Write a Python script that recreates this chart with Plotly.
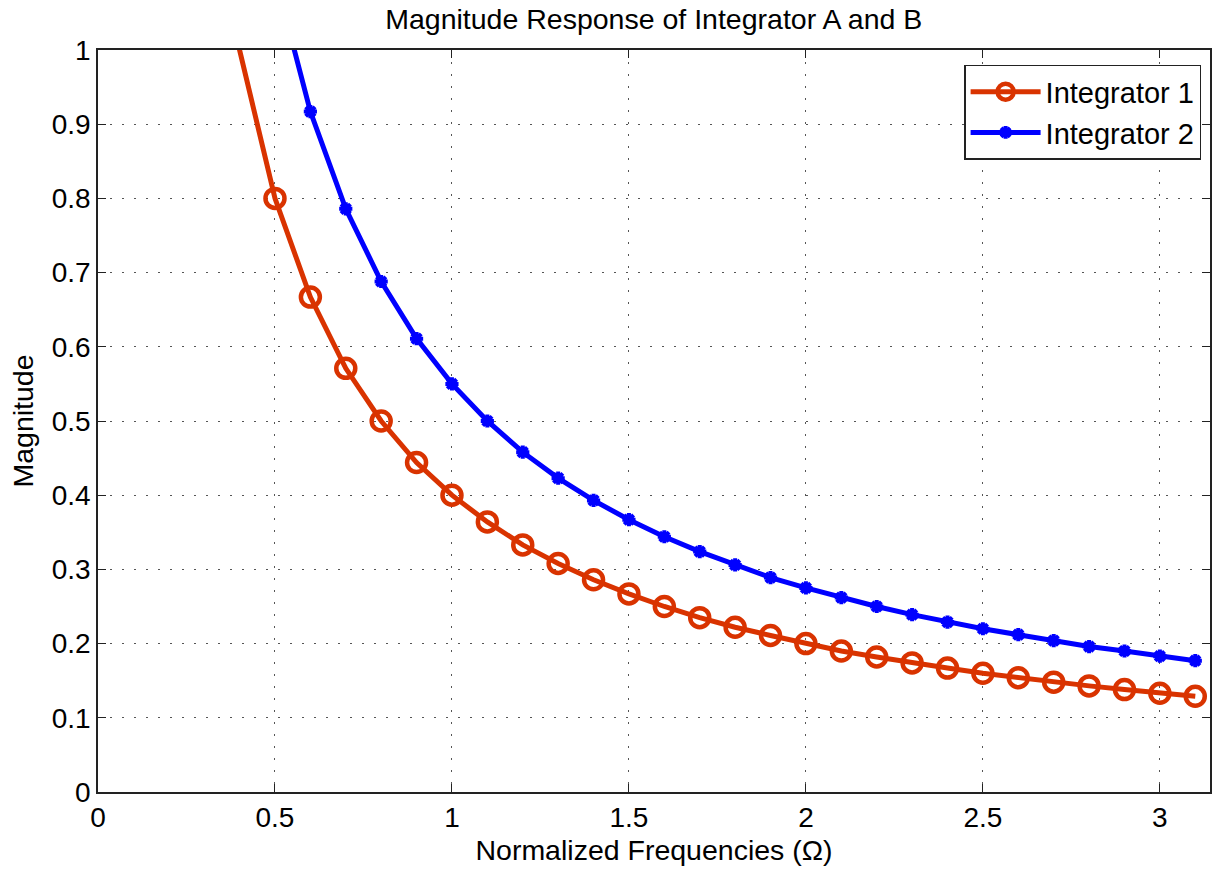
import plotly.graph_objects as go

# Normalized frequency samples (Omega)
freq_1 = [0.3, 0.4, 0.5, 0.6, 0.7, 0.8, 0.9, 1.0, 1.1, 1.2, 1.3, 1.4, 1.5, 1.6,
          1.7, 1.8, 1.9, 2.0, 2.1, 2.2, 2.3, 2.4, 2.5, 2.6, 2.7, 2.8, 2.9, 3.0, 3.1]
mag_1 = [1.333, 1.0, 0.8, 0.667, 0.571, 0.5, 0.444, 0.4, 0.364, 0.333, 0.308,
         0.286, 0.267, 0.25, 0.235, 0.222, 0.211, 0.2, 0.190, 0.182, 0.174,
         0.167, 0.16, 0.154, 0.148, 0.143, 0.138, 0.133, 0.129]

freq_2 = [0.5, 0.6, 0.7, 0.8, 0.9, 1.0, 1.1, 1.2, 1.3, 1.4, 1.5, 1.6, 1.7, 1.8,
          1.9, 2.0, 2.1, 2.2, 2.3, 2.4, 2.5, 2.6, 2.7, 2.8, 2.9, 3.0, 3.1]
mag_2 = [1.1, 0.917, 0.786, 0.688, 0.611, 0.55, 0.5, 0.458, 0.423, 0.393, 0.367,
         0.344, 0.324, 0.306, 0.289, 0.275, 0.262, 0.25, 0.239, 0.229, 0.22,
         0.212, 0.204, 0.196, 0.19, 0.183, 0.177]

x_ticks = [0, 0.5, 1, 1.5, 2, 2.5, 3]
y_ticks = [0, 0.1, 0.2, 0.3, 0.4, 0.5, 0.6, 0.7, 0.8, 0.9, 1]

RED = "#D93300"
BLUE = "#0000FF"
FONT = "Liberation Sans, Arial, sans-serif"

# hide markers whose centre falls outside the visible y-range
size_1 = [19 if v < 1 else 0 for v in mag_1]
size_2 = [11 if v < 1 else 0 for v in mag_2]

fig = go.Figure()
fig.add_trace(go.Scatter(
    x=freq_1, y=mag_1, name="Integrator 1", mode="lines+markers", opacity=1,
    line=dict(color=RED, width=5),
    marker=dict(symbol="circle-open", size=size_1, color=RED, opacity=1,
                line=dict(color=RED, width=4.5)),
))
fig.add_trace(go.Scatter(
    x=freq_2, y=mag_2, name="Integrator 2", mode="lines+markers", opacity=1,
    line=dict(color=BLUE, width=5),
    marker=dict(symbol="asterisk-open", size=size_2, color=BLUE, opacity=1,
                line=dict(color=BLUE, width=4)),
))

axis_common = dict(
    showline=True, linecolor="#222222", linewidth=1.5, mirror="ticks",
    ticks="inside", ticklen=8, tickwidth=1.2, tickcolor="#222222",
    showgrid=True, gridcolor="#555555", gridwidth=1, griddash="2px,10px",
    zeroline=False, tickfont=dict(family=FONT, size=28, color="#000000"),
)

fig.update_layout(
    width=1222, height=871,
    margin=dict(l=98, r=10, t=50, b=79),
    paper_bgcolor="white", plot_bgcolor="white",
    font=dict(family=FONT, color="#000000"),
    title=dict(text="Magnitude Response of Integrator A and B",
               x=0.535, xanchor="center", y=0.99, yanchor="top",
               font=dict(family=FONT, size=28.5, color="#000000")),
    xaxis=dict(range=[0, 3.14159], tickvals=x_ticks,
               ticktext=[str(v) for v in x_ticks],
               title=dict(text="Normalized Frequencies (Ω)", standoff=8,
                          font=dict(family=FONT, size=28.5)),
               **axis_common),
    yaxis=dict(range=[0, 1], tickvals=y_ticks,
               ticktext=[f"{v:g}" for v in y_ticks],
               title=dict(text="Magnitude", standoff=10,
                          font=dict(family=FONT, size=28.5)),
               **axis_common),
    legend=dict(x=0.992, y=0.98, xanchor="right", yanchor="top",
                bgcolor="white", bordercolor="#222222", borderwidth=1.5,
                font=dict(family=FONT, size=29, color="#000000"),
                itemwidth=70, tracegroupgap=2),
    showlegend=True,
)

fig.write_html("out.html")
